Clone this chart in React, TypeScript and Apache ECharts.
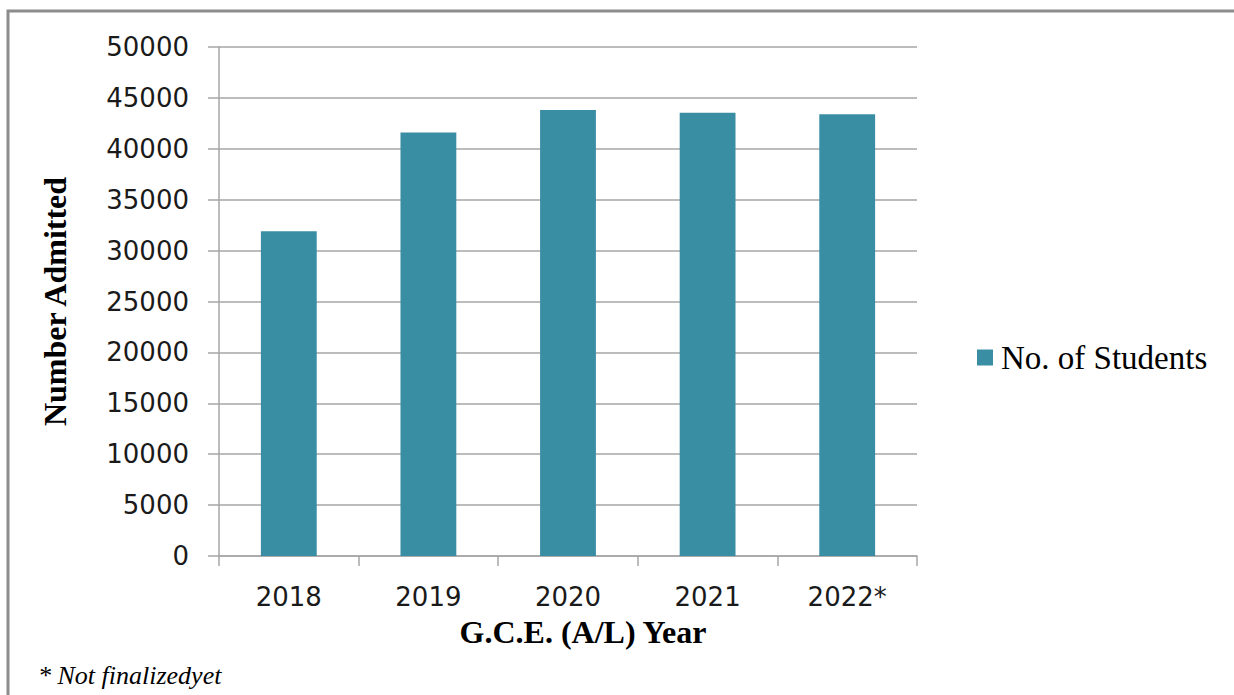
import React, { useEffect, useRef } from "react";
import * as echarts from "echarts";

const categories = ["2018", "2019", "2020", "2021", "2022*"];
const students = [31900, 41600, 43800, 43550, 43400];
const seriesName = "No. of Students";
const xTitle = "G.C.E. (A/L) Year";
const yTitle = "Number Admitted";
const footnote = "* Not finalizedyet";

export default function App() {
  const ref = useRef<HTMLDivElement>(null);
  useEffect(() => {
    if (!ref.current) return;
    const chart = echarts.init(ref.current, undefined, { renderer: "svg" });
    const axisGrey = "#a6a6a6";
    chart.setOption({
      animation: false,
      backgroundColor: "#ffffff",
      grid: { left: 219, right: 317, top: 47, bottom: 139, containLabel: false },
      legend: {
        data: [seriesName],
        left: 972,
        top: 336,
        icon: "rect",
        itemWidth: 16,
        itemHeight: 16,
        textStyle: {
          fontFamily: "Liberation Serif",
          fontSize: 33,
          color: "#000",
          padding: [0, 0, 0, 3],
        },
      },
      xAxis: {
        type: "category",
        data: categories,
        name: xTitle,
        nameLocation: "middle",
        nameGap: 60,
        nameTextStyle: {
          fontFamily: "Liberation Serif",
          fontWeight: "bold",
          fontSize: 32,
          color: "#000",
          padding: [0, 0, 0, 30],
        },
        axisLine: { show: true, lineStyle: { color: axisGrey, width: 1.5 } },
        axisTick: { show: true, length: 10, lineStyle: { color: axisGrey, width: 1.5 } },
        axisLabel: {
          margin: 28,
          fontFamily: "DejaVu Sans",
          fontSize: 26,
          color: "#1a1a1a",
        },
      },
      yAxis: {
        type: "value",
        min: 0,
        max: 50000,
        interval: 5000,
        name: yTitle,
        nameLocation: "middle",
        nameRotate: 90,
        nameGap: 148,
        nameTextStyle: {
          fontFamily: "Liberation Serif",
          fontWeight: "bold",
          fontSize: 32,
          color: "#000",
        },
        axisLine: { show: true, lineStyle: { color: axisGrey, width: 1.5 } },
        axisTick: { show: true, length: 11, lineStyle: { color: axisGrey, width: 1.5 } },
        splitLine: { show: true, lineStyle: { color: axisGrey, width: 1.5 } },
        axisLabel: {
          margin: 30,
          fontFamily: "DejaVu Sans",
          fontSize: 26,
          color: "#1a1a1a",
          formatter: (v: number) => String(v),
        },
      },
      series: [
        {
          name: seriesName,
          type: "bar",
          data: students,
          barWidth: "40%",
          itemStyle: { color: "#3a8ea4" },
        },
      ],
      graphic: [
        {
          type: "rect",
          shape: { x: 8, y: 11, width: 1400, height: 900 },
          style: { fill: "none", stroke: "#8c8c8c", lineWidth: 3 },
          silent: true,
        },
        {
          type: "text",
          left: 38,
          top: 662,
          style: {
            text: footnote,
            fontFamily: "Liberation Serif",
            fontStyle: "italic",
            fontSize: 26,
            fill: "#000",
          },
        },
      ],
    });
    return () => chart.dispose();
  }, []);
  return (
    <div
      ref={ref}
      style={{ position: "fixed", left: 0, top: 0, width: 1234, height: 695 }}
    />
  );
}
